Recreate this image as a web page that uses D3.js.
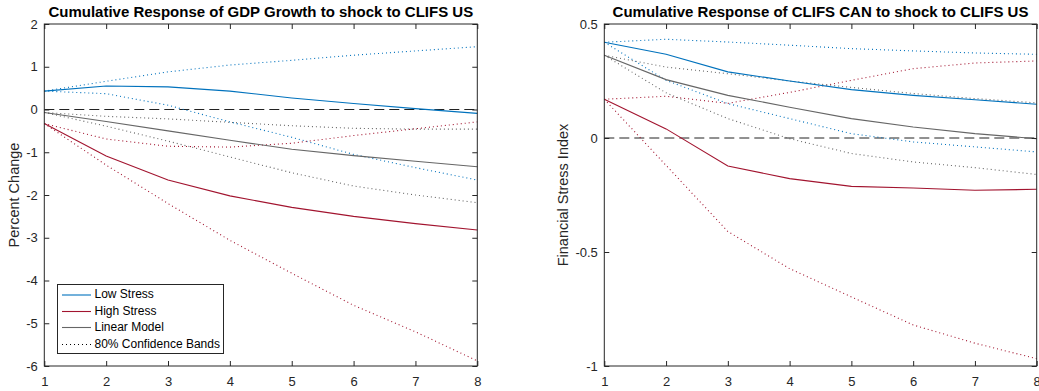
<!DOCTYPE html>
<html>
<head>
<meta charset="utf-8">
<script src="https://cdn.jsdelivr.net/npm/d3@7"></script>
<style>
  html, body { margin: 0; padding: 0; background: #fff; }
  svg { display: block; font-family: "Liberation Sans", Arial, Helvetica, sans-serif; }
</style>
</head>
<body>
<svg id="chart" width="1039" height="391"></svg>
<script>
// Horizons (quarters after the shock)
const horizons = [1, 2, 3, 4, 5, 6, 7, 8];

// Cumulative response of GDP growth (percent change)
const gdpLow    = [0.43, 0.55, 0.53, 0.43, 0.27, 0.14, 0.02, -0.09];
const gdpLowLo  = [0.43, 0.37, 0.10, -0.29, -0.65, -1.05, -1.36, -1.65];
const gdpLowHi  = [0.43, 0.66, 0.88, 1.04, 1.15, 1.27, 1.37, 1.47];
const gdpHigh   = [-0.33, -1.09, -1.65, -2.02, -2.29, -2.50, -2.67, -2.82];
const gdpHighLo = [-0.33, -1.30, -2.20, -3.06, -3.83, -4.58, -5.20, -5.88];
const gdpHighHi = [-0.33, -0.69, -0.86, -0.88, -0.79, -0.61, -0.45, -0.29];
const gdpLin    = [-0.07, -0.28, -0.50, -0.72, -0.93, -1.08, -1.21, -1.34];
const gdpLinLo  = [-0.07, -0.39, -0.74, -1.11, -1.48, -1.79, -2.00, -2.18];
const gdpLinHi  = [-0.07, -0.16, -0.22, -0.30, -0.38, -0.44, -0.46, -0.46];

// Cumulative response of CLIFS CAN (financial stress index)
const canLow    = [0.42, 0.367, 0.29, 0.25, 0.212, 0.187, 0.168, 0.148];
const canLowLo  = [0.42, 0.253, 0.151, 0.085, 0.019, -0.017, -0.039, -0.061];
const canLowHi  = [0.42, 0.433, 0.421, 0.407, 0.392, 0.382, 0.373, 0.367];
const canHigh   = [0.17, 0.04, -0.123, -0.178, -0.212, -0.219, -0.229, -0.225];
const canHighLo = [0.17, -0.12, -0.41, -0.573, -0.697, -0.82, -0.90, -0.968];
const canHighHi = [0.17, 0.183, 0.152, 0.20, 0.253, 0.304, 0.329, 0.338];
const canLin    = [0.363, 0.256, 0.187, 0.135, 0.085, 0.048, 0.019, -0.003];
const canLinLo  = [0.363, 0.198, 0.085, -0.003, -0.068, -0.105, -0.13, -0.16];
const canLinHi  = [0.363, 0.311, 0.282, 0.25, 0.222, 0.195, 0.173, 0.154];

// Tick values
const xTicks = [1, 2, 3, 4, 5, 6, 7, 8];
const gdpTicks = [-6, -5, -4, -3, -2, -1, 0, 1, 2];
const canTicks = [-1, -0.5, 0, 0.5];

const legendLabels = ["Low Stress", "High Stress", "Linear Model", "80% Confidence Bands"];

const COL = { low: "#0072BD", high: "#A2142F", lin: "#666666", axis: "#262626" };

const svg = d3.select("#chart");

// plain hyphen-minus labels, e.g. "-0.5"
const plain = d => String(d);

function panel(opts) {
  const { left, right, top, bottom, yDomain, yTicks, title, ylabel, ylabelX, series, legend } = opts;
  const x = d3.scaleLinear().domain([1, 8]).range([left, right]);
  const y = d3.scaleLinear().domain(yDomain).range([bottom, top]);
  const g = svg.append("g");

  // zero reference line
  g.append("line")
    .attr("x1", x(1)).attr("x2", x(8))
    .attr("y1", y(0)).attr("y2", y(0))
    .attr("stroke", "#222").attr("stroke-width", 1)
    .attr("stroke-dasharray", "10,5");

  const line = d3.line().x((d, i) => x(horizons[i])).y(d => y(d));

  series.forEach(s => {
    g.append("path")
      .datum(s.values)
      .attr("d", line)
      .attr("fill", "none")
      .attr("stroke", s.color)
      .attr("stroke-width", 1.1)
      .attr("stroke-dasharray", s.dotted ? "1,3" : null);
  });

  // axes with inward ticks on all four sides
  const bottomAxis = d3.axisBottom(x).tickValues(xTicks).tickSizeInner(-5).tickSizeOuter(0).tickPadding(11).tickFormat(plain);
  const topAxis = d3.axisTop(x).tickValues(xTicks).tickSizeInner(-5).tickSizeOuter(0).tickFormat("");
  const leftAxis = d3.axisLeft(y).tickValues(yTicks).tickSizeInner(-5).tickSizeOuter(0).tickPadding(6.5).tickFormat(plain);
  const rightAxis = d3.axisRight(y).tickValues(yTicks).tickSizeInner(-5).tickSizeOuter(0).tickFormat("");

  const ax = [
    g.append("g").attr("transform", `translate(0,${bottom})`).call(bottomAxis),
    g.append("g").attr("transform", `translate(0,${top})`).call(topAxis),
    g.append("g").attr("transform", `translate(${left},0)`).call(leftAxis),
    g.append("g").attr("transform", `translate(${right},0)`).call(rightAxis)
  ];
  ax.forEach(a => {
    a.select(".domain").remove();
    a.selectAll(".tick line").attr("stroke", COL.axis);
    a.selectAll(".tick text").attr("fill", COL.axis).style("font-size", "13px").style("font-family", "'Liberation Sans', Arial, sans-serif");
  });

  g.append("rect")
    .attr("x", left).attr("y", top)
    .attr("width", right - left).attr("height", bottom - top)
    .attr("fill", "none").attr("stroke", COL.axis).attr("stroke-width", 1);

  g.append("text")
    .attr("x", (left + right) / 2).attr("y", 17)
    .attr("text-anchor", "middle")
    .attr("font-weight", "bold").attr("font-size", "15px").attr("fill", "#000")
    .text(title);

  g.append("text")
    .attr("transform", `translate(${ylabelX},${(top + bottom) / 2}) rotate(-90)`)
    .attr("text-anchor", "middle").attr("dominant-baseline", "middle")
    .attr("font-size", "14.5px").attr("fill", COL.axis)
    .text(ylabel);

  if (legend) {
    const lg = g.append("g");
    const lx = 57.5, ly = 284.5, lw = 166, lh = 69;
    lg.append("rect").attr("x", lx).attr("y", ly).attr("width", lw).attr("height", lh)
      .attr("fill", "#fff").attr("stroke", COL.axis).attr("stroke-width", 1);
    const items = [
      { label: legendLabels[0], color: COL.low, dotted: false },
      { label: legendLabels[1], color: COL.high, dotted: false },
      { label: legendLabels[2], color: COL.lin, dotted: false },
      { label: legendLabels[3], color: "#000", dotted: true }
    ];
    const rowY = [295, 311.5, 327.5, 344.5];
    items.forEach((it, i) => {
      lg.append("line").attr("x1", 62).attr("x2", 91).attr("y1", rowY[i]).attr("y2", rowY[i])
        .attr("stroke", it.color).attr("stroke-width", 1.1)
        .attr("stroke-dasharray", it.dotted ? "1,3" : null);
      lg.append("text").attr("x", 94.5).attr("y", rowY[i])
        .attr("dominant-baseline", "middle").attr("font-size", "12px").attr("fill", "#000")
        .text(it.label);
    });
  }
}

panel({
  left: 44.3, right: 477.3, top: 24, bottom: 366,
  yDomain: [-6, 2], yTicks: gdpTicks,
  title: "Cumulative Response of GDP Growth to shock to CLIFS US",
  ylabel: "Percent Change", ylabelX: 15,
  legend: true,
  series: [
    { values: gdpLowHi, color: COL.low, dotted: true },
    { values: gdpLowLo, color: COL.low, dotted: true },
    { values: gdpHighHi, color: COL.high, dotted: true },
    { values: gdpHighLo, color: COL.high, dotted: true },
    { values: gdpLinHi, color: COL.lin, dotted: true },
    { values: gdpLinLo, color: COL.lin, dotted: true },
    { values: gdpLow, color: COL.low, dotted: false },
    { values: gdpHigh, color: COL.high, dotted: false },
    { values: gdpLin, color: COL.lin, dotted: false }
  ]
});

panel({
  left: 604.3, right: 1036.7, top: 24, bottom: 366,
  yDomain: [-1, 0.5], yTicks: canTicks,
  title: "Cumulative Response of CLIFS CAN to shock to CLIFS US",
  ylabel: "Financial Stress Index", ylabelX: 564,
  legend: false,
  series: [
    { values: canLowHi, color: COL.low, dotted: true },
    { values: canLowLo, color: COL.low, dotted: true },
    { values: canHighHi, color: COL.high, dotted: true },
    { values: canHighLo, color: COL.high, dotted: true },
    { values: canLinHi, color: COL.lin, dotted: true },
    { values: canLinLo, color: COL.lin, dotted: true },
    { values: canLow, color: COL.low, dotted: false },
    { values: canHigh, color: COL.high, dotted: false },
    { values: canLin, color: COL.lin, dotted: false }
  ]
});
</script>
</body>
</html>
